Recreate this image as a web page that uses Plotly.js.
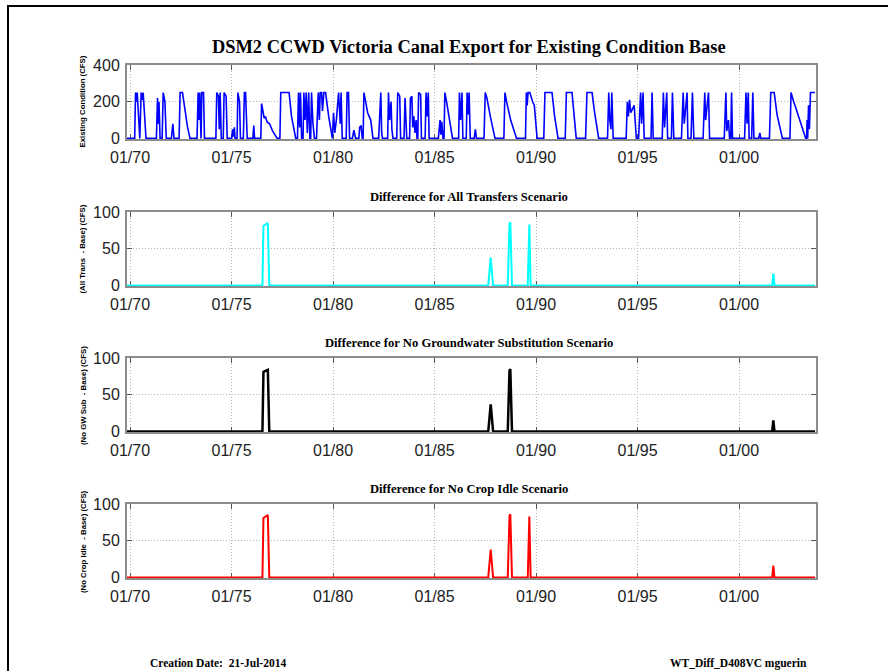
<!DOCTYPE html>
<html>
<head>
<meta charset="utf-8">
<script src="https://cdn.plot.ly/plotly-3.0.1.min.js"></script>
<style>
  html, body { margin: 0; padding: 0; background: #fff; }
  #frame { position: absolute; left: 7px; top: 5px; width: 1000px; height: 1000px; border: 2px solid #000; box-sizing: border-box; }
  #chart { position: absolute; left: 0; top: 0; width: 888px; height: 671px; }
</style>
</head>
<body>
<div id="frame"></div>
<div id="chart"></div>
<script>
// ---------- data ----------
const tickDates = ['1970-01-01','1975-01-01','1980-01-01','1985-01-01','1990-01-01','1995-01-01','2000-01-01'];
const tickLabels = ['01/70','01/75','01/80','01/85','01/90','01/95','01/00'];

// Existing Condition Base export (CFS): [date, value]
const baseSeries = [
 ['1969-10-01',0],
 ['1970-03-25',0],['1970-04-10',250],['1970-04-25',200],['1970-05-10',250],['1970-06-05',60],['1970-06-25',0],['1970-07-20',250],['1970-08-10',210],['1970-08-25',250],['1970-10-15',0],
 ['1971-04-20',0],['1971-05-10',220],['1971-05-20',80],['1971-06-05',200],['1971-06-25',0],['1971-08-01',0],['1971-08-20',250],['1971-09-20',200],['1971-10-15',0],
 ['1972-01-15',0],['1972-02-10',80],['1972-03-01',0],
 ['1972-06-01',0],['1972-06-20',250],['1972-08-01',250],['1972-09-15',150],['1972-11-01',60],['1972-12-15',0],
 ['1973-04-20',0],['1973-05-10',250],['1973-05-25',100],['1973-06-10',250],['1973-07-01',0],['1973-07-15',250],['1973-08-15',250],['1973-09-01',0],
 ['1974-03-25',0],['1974-04-10',250],['1974-05-10',230],['1974-05-25',50],['1974-06-10',250],['1974-06-30',0],['1974-08-05',0],['1974-08-20',250],['1974-09-25',230],['1974-10-15',0],
 ['1975-01-05',0],['1975-01-20',50],['1975-02-05',10],['1975-02-20',60],['1975-03-05',0],
 ['1975-04-10',0],['1975-04-25',250],['1975-05-25',200],['1975-06-10',0],
 ['1975-08-01',0],['1975-08-20',250],['1975-09-10',250],['1975-09-25',100],['1975-10-10',0],
 ['1976-01-20',0],['1976-02-05',70],['1976-02-20',0],
 ['1976-06-10',0],['1976-06-25',190],['1976-07-15',150],['1976-08-10',110],['1976-09-01',120],['1976-10-01',90],['1976-11-15',80],['1977-01-10',40],['1977-04-01',0],
 ['1977-05-20',0],['1977-06-05',250],['1977-11-01',250],['1977-12-15',120],['1978-03-01',0],
 ['1978-04-01',0],['1978-04-20',250],['1978-05-10',60],['1978-05-25',250],['1978-06-15',0],['1978-07-10',0],['1978-07-25',250],['1978-08-15',100],['1978-09-05',250],['1978-09-25',30],['1978-10-20',250],['1978-11-10',0],['1978-11-25',0],['1978-12-10',250],['1979-01-05',80],['1979-02-01',0],['1979-03-10',0],['1979-04-10',250],['1979-05-01',100],['1979-05-15',250],['1979-06-10',250],['1979-06-25',150],['1979-07-20',250],['1979-08-20',250],['1979-10-15',120],['1979-12-20',0],
 ['1980-01-10',140],['1980-02-01',30],['1980-03-01',100],['1980-04-10',250],['1980-05-10',80],['1980-05-25',250],['1980-06-15',0],['1980-08-25',0],['1980-09-10',250],['1980-10-05',250],['1980-10-25',0],
 ['1980-12-15',0],['1981-01-10',45],['1981-02-10',0],
 ['1981-04-10',0],['1981-04-25',60],['1981-05-20',70],['1981-06-10',0],['1981-06-25',0],['1981-07-10',250],['1981-08-10',200],['1981-09-15',140],['1981-11-10',100],['1981-12-20',0],
 ['1982-04-01',0],['1982-05-10',250],['1982-05-25',30],['1982-06-10',0],
 ['1982-09-10',0],['1982-09-25',250],['1982-10-15',100],['1982-11-10',200],['1982-11-25',50],['1982-12-15',0],
 ['1983-02-20',0],['1983-03-10',250],['1983-04-15',230],['1983-05-01',0],
 ['1983-07-01',0],['1983-07-20',220],['1983-08-05',100],['1983-08-20',0],
 ['1983-10-10',0],['1983-10-25',220],['1983-11-20',230],['1983-12-05',60],['1983-12-25',120],['1984-01-15',30],['1984-02-05',100],['1984-02-20',0],
 ['1984-03-05',0],['1984-03-20',250],['1984-04-25',240],['1984-05-10',0],
 ['1984-07-15',0],['1984-08-01',250],['1984-08-20',120],['1984-09-10',250],['1984-09-25',0],
 ['1985-03-10',0],['1985-04-10',100],['1985-04-25',20],['1985-05-10',90],['1985-06-01',0],['1985-06-20',0],['1985-07-05',250],['1985-08-05',200],['1985-10-01',100],['1985-11-20',0],
 ['1986-03-10',0],['1986-03-25',250],['1986-04-15',100],['1986-05-10',250],['1986-05-25',0],
 ['1986-07-25',0],['1986-08-10',250],['1986-08-25',130],['1986-09-15',250],['1986-10-05',0],
 ['1986-12-15',0],['1987-01-05',50],['1987-01-25',0],
 ['1987-06-10',0],['1987-07-01',250],['1987-08-01',220],['1987-10-01',120],['1987-12-25',0],
 ['1988-06-01',0],['1988-06-20',250],['1988-07-20',200],['1988-10-01',100],['1989-01-15',0],
 ['1989-06-25',0],['1989-07-10',250],['1989-07-25',180],['1989-08-10',250],['1989-09-10',250],['1989-11-01',200],['1989-12-01',180],['1990-01-20',0],
 ['1990-05-20',0],['1990-06-10',250],['1990-10-15',250],['1990-12-01',120],['1991-02-01',0],
 ['1991-06-10',0],['1991-07-01',250],['1991-10-10',250],['1991-12-25',0],
 ['1992-06-10',0],['1992-07-05',250],['1992-10-05',250],['1992-11-15',150],['1993-02-01',0],
 ['1993-07-10',0],['1993-08-01',250],['1993-08-20',100],['1993-09-10',50],['1993-09-25',250],['1993-10-20',0],
 ['1994-06-10',0],['1994-07-01',200],['1994-07-20',120],['1994-08-10',210],['1994-09-01',140],['1994-10-01',160],['1994-11-01',180],['1994-12-10',0],
 ['1995-01-20',0],['1995-02-25',250],['1995-03-15',80],['1995-04-10',250],['1995-05-01',0],
 ['1995-09-01',0],['1995-09-20',250],['1995-10-10',0],
 ['1996-03-20',0],['1996-04-10',250],['1996-05-01',60],['1996-06-10',250],['1996-06-25',0],
 ['1996-09-01',0],['1996-09-20',250],['1996-10-15',0],
 ['1997-03-01',0],['1997-04-01',250],['1997-04-20',80],['1997-06-10',250],['1997-06-25',0],
 ['1997-08-20',0],['1997-09-15',250],['1997-10-10',0],
 ['1998-03-25',0],['1998-04-25',250],['1998-05-10',100],['1998-07-01',250],['1998-07-20',0],
 ['1999-04-10',0],['1999-05-10',250],['1999-05-25',40],['1999-06-25',100],['1999-07-15',0],['1999-08-05',0],['1999-08-20',250],['1999-09-05',0],
 ['2000-04-10',0],['2000-05-05',250],['2000-05-25',80],['2000-06-15',250],['2000-07-01',0],['2000-08-15',0],['2000-09-05',250],['2000-09-25',0],
 ['2000-12-20',0],['2001-01-10',30],['2001-01-25',0],
 ['2001-07-01',0],['2001-07-25',250],['2001-09-25',250],['2001-11-15',130],['2002-02-20',0],
 ['2002-07-05',0],['2002-07-25',250],['2002-09-10',200],['2002-10-15',170],['2003-04-15',0],
 ['2003-05-01',0],['2003-05-10',100],['2003-05-20',0],['2003-06-05',180],['2003-06-20',50],['2003-07-10',250],['2003-09-30',250]
];

// Difference series (scenario - base), CFS, on shared dates
const diffDates = ['1969-10-01','1976-07-10','1976-07-28','1976-08-15','1976-10-15','1976-11-10',
  '1987-08-25','1987-10-08','1987-11-20','1988-08-10','1988-09-10','1988-09-25','1988-10-25',
  '1989-08-05','1989-09-02','1989-09-25','2001-08-20','2001-09-09','2001-09-30','2003-09-30'];
const allTransDiff   = [0,0,81,82,85,0, 0,38,0, 0,84,86,0, 0,83,0, 0,16,0,0];
const noGwSubDiff    = [0,0,81,82,84,0, 0,37,0, 0,83,85,0, 0,0,0,  0,15,0,0];
const noCropIdleDiff = [0,0,81,82,85,0, 0,38,0, 0,84,86,0, 0,83,0, 0,16,0,0];

const mainTitle = 'DSM2 CCWD Victoria Canal Export for Existing Condition Base';
const subTitles = ['Difference for All Transfers Scenario','Difference for No Groundwater Substitution Scenario','Difference for No Crop Idle Scenario'];
const yTitles = ['Existing Condition (CFS)','(All Trans&nbsp;&nbsp;- Base) (CFS)','(No GW Sub&nbsp;&nbsp;- Base) (CFS)','(No Crop Idle&nbsp;&nbsp;- Base) (CFS)'];

// ---------- layout ----------
const baseDates = baseSeries.map(d => d[0]);
const baseValues = baseSeries.map(d => d[1]);

const xRange = ['1969-11-07','2003-10-17'];
const domains = [[0.8558,1.0],[0.5692,0.7135],[0.2846,0.4288],[0.0,0.1442]];
const AX = '#8c8c8c';
const GRID = { showgrid: true, gridcolor: '#b4b4b4', griddash: '1px,2px', gridwidth: 1 };

function xAxis(i) {
  return Object.assign({
    type: 'date', range: xRange, domain: [0,1], anchor: 'y' + (i === 0 ? '' : i + 1),
    tickmode: 'array', tickvals: tickDates, ticktext: tickLabels,
    ticks: 'inside', ticklen: 5, tickwidth: 1, tickcolor: '#555',
    showline: true, linecolor: AX, linewidth: 2, mirror: 'ticks',
    zeroline: false, layer: 'below traces', ticklabelstandoff: 3,
    tickfont: { family: 'Liberation Sans, Arial, sans-serif', size: 16, color: '#222' }
  }, GRID);
}
function yAxis(i, rng, vals) {
  return Object.assign({
    domain: domains[i], anchor: 'x' + (i === 0 ? '' : i + 1), range: rng,
    tickmode: 'array', tickvals: vals,
    ticks: 'inside', ticklen: 5, tickwidth: 1, tickcolor: '#555',
    showline: true, linecolor: AX, linewidth: 2, mirror: 'ticks',
    zeroline: false, layer: 'below traces', ticklabelstandoff: 2,
    tickfont: { family: 'Liberation Sans, Arial, sans-serif', size: 16, color: '#222' }
  }, GRID);
}

const traces = [
  { x: baseDates, y: baseValues, xaxis: 'x', yaxis: 'y', type: 'scatter', mode: 'lines', line: { color: '#0000ff', width: 1.6 } },
  { x: diffDates, y: allTransDiff, xaxis: 'x2', yaxis: 'y2', type: 'scatter', mode: 'lines', line: { color: '#00ffff', width: 2 } },
  { x: diffDates, y: noGwSubDiff, xaxis: 'x3', yaxis: 'y3', type: 'scatter', mode: 'lines', line: { color: '#000000', width: 2.5 } },
  { x: diffDates, y: noCropIdleDiff, xaxis: 'x4', yaxis: 'y4', type: 'scatter', mode: 'lines', line: { color: '#ff0000', width: 2 } }
];

const serifB = 'Liberation Serif, Times New Roman, serif';
const annotations = [
  { text: '<b>' + mainTitle + '</b>', x: 0.4964, y: 1.0351, xref: 'paper', yref: 'paper', showarrow: false, xanchor: 'center', yanchor: 'middle', font: { family: serifB, size: 18.4, color: '#000' } },
  { text: '<b>' + subTitles[0] + '</b>', x: 0.4964, y: 0.7427, xref: 'paper', yref: 'paper', showarrow: false, xanchor: 'center', yanchor: 'middle', font: { family: serifB, size: 12.6, color: '#000' } },
  { text: '<b>' + subTitles[1] + '</b>', x: 0.4964, y: 0.4581, xref: 'paper', yref: 'paper', showarrow: false, xanchor: 'center', yanchor: 'middle', font: { family: serifB, size: 12.6, color: '#000' } },
  { text: '<b>' + subTitles[2] + '</b>', x: 0.4964, y: 0.1735, xref: 'paper', yref: 'paper', showarrow: false, xanchor: 'center', yanchor: 'middle', font: { family: serifB, size: 12.6, color: '#000' } },
  { text: '<b>Creation Date:&nbsp;&nbsp;21-Jul-2014</b>', x: 0.0305, y: -0.1657, xref: 'paper', yref: 'paper', showarrow: false, xanchor: 'left', yanchor: 'middle', font: { family: serifB, size: 11.5, color: '#000' } },
  { text: '<b>WT_Diff_D408VC mguerin</b>', x: 0.785, y: -0.1657, xref: 'paper', yref: 'paper', showarrow: false, xanchor: 'left', yanchor: 'middle', font: { family: serifB, size: 11.5, color: '#000' } }
];
const yTitleY = [0.9289, 0.6423, 0.3567, 0.072];
yTitles.forEach((t, i) => annotations.push({
  text: '<b>' + t + '</b>', x: -0.0639, y: yTitleY[i], xref: 'paper', yref: 'paper', showarrow: false,
  textangle: -90, xanchor: 'center', yanchor: 'middle', font: { family: 'Liberation Sans, Arial, sans-serif', size: 7.8, color: '#000' }
}));

const layout = {
  width: 888, height: 671, showlegend: false,
  paper_bgcolor: 'rgba(0,0,0,0)', plot_bgcolor: '#fff',
  margin: { l: 127, r: 72, t: 65, b: 93, pad: 0 },
  xaxis: xAxis(0), xaxis2: xAxis(1), xaxis3: xAxis(2), xaxis4: xAxis(3),
  yaxis: yAxis(0, [-3, 400], [0, 200, 400]),
  yaxis2: yAxis(1, [-0.8, 100], [0, 50, 100]),
  yaxis3: yAxis(2, [-0.8, 100], [0, 50, 100]),
  yaxis4: yAxis(3, [-0.8, 100], [0, 50, 100]),
  annotations: annotations
};

Plotly.newPlot('chart', traces, layout, { staticPlot: true, displayModeBar: false });
</script>
</body>
</html>
